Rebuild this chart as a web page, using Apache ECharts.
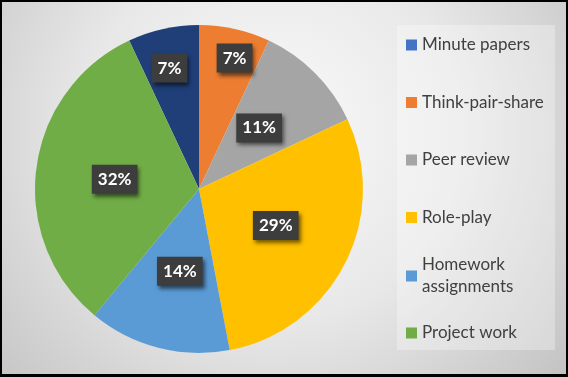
<!DOCTYPE html>
<html>
<head>
<meta charset="utf-8">
<script src="https://cdn.jsdelivr.net/npm/echarts@6/dist/echarts.min.js"></script>
<style>
  html, body { margin: 0; padding: 0; background: #000; }
  #wrap { position: relative; width: 568px; height: 377px; }
  #chart { position: absolute; left: 0; top: 0; width: 568px; height: 377px; }
  #frame { position: absolute; left: 0; top: 0; width: 568px; height: 377px; box-sizing: border-box;
           border: 2px solid #000; border-bottom-width: 3px; pointer-events: none; }
</style>
</head>
<body>
<div id="wrap"><div id="chart"></div><div id="frame"></div></div>
<script>
// ---- data ----
const categories = ['Minute papers', 'Think-pair-share', 'Peer review', 'Role-play', 'Homework assignments', 'Project work'];
const values = [7, 7, 11, 29, 14, 32];
const legendLabels = ['Minute papers', 'Think-pair-share', 'Peer review', 'Role-play', 'Homework\nassignments', 'Project work'];

// ---- styling ----
const sliceColors = ['#203F78', '#ED7D31', '#A5A5A5', '#FFC000', '#5B9BD5', '#70AD47'];
const legendColors = ['#4472C4', '#ED7D31', '#A5A5A5', '#FFC000', '#5B9BD5', '#70AD47'];
const labelNudge = [[-11, -38], [17, -48], [0, -1], [1, -2], [2, 0], [0, 1]];

const FONT = 'Lato';

const chart = echarts.init(document.getElementById('chart'), null, { renderer: 'canvas' });

const pieData = categories.map((c, i) => ({
  name: c,
  value: values[i],
  itemStyle: { color: sliceColors[i] },
  label: { offset: labelNudge[i] }
}));

function legendItem(i, extra) {
  return Object.assign({
    name: categories[i],
    itemStyle: { color: legendColors[i] }
  }, extra || {});
}

const legendCommon = {
  orient: 'vertical',
  left: 406,
  padding: 0,
  icon: 'rect',
  itemWidth: 11,
  itemHeight: 11,
  selectedMode: false,
  textStyle: { color: '#404040', fontFamily: FONT, fontSize: 17, lineHeight: 22 },
  formatter: function (name) { return legendLabels[categories.indexOf(name)]; }
};

chart.setOption({
  animation: false,
  backgroundColor: {
    type: 'radial', x: 0.48, y: 0.35, r: 1.0,
    colorStops: [
      { offset: 0, color: '#fafafa' },
      { offset: 0.5, color: '#e8e8e8' },
      { offset: 1, color: '#c4c4c4' }
    ]
  },
  graphic: [{
    type: 'rect', z: -1,
    shape: { x: 397, y: 25, width: 158, height: 325 },
    style: { fill: 'rgba(255,255,255,0.3)' },
    silent: true
  }],
  legend: [
    Object.assign({}, legendCommon, {
      top: 34,
      itemGap: 35.5,
      data: [0, 1, 2, 3].map(i => legendItem(i))
    }),
    Object.assign({}, legendCommon, {
      top: 243,
      itemGap: 13,
      data: [legendItem(4, { textStyle: { padding: [22, 0, 0, 0] } }), legendItem(5)]
    })
  ],
  series: [{
    type: 'pie',
    center: [199, 189],
    radius: [0, 164],
    startAngle: 115.2,
    clockwise: true,
    avoidLabelOverlap: false,
    data: pieData,
    emphasis: { disabled: true },
    label: {
      show: true,
      position: 'inside',
      formatter: '{d}%',
      color: '#ffffff',
      fontFamily: FONT,
      fontWeight: 'bold',
      fontSize: 17,
      lineHeight: 20,
      backgroundColor: '#3d3d3d',
      padding: [5, 6, 4, 6],
      shadowColor: 'rgba(0,0,0,0.55)',
      shadowBlur: 4,
      shadowOffsetX: 2,
      shadowOffsetY: 3
    },
    labelLine: { show: false }
  }]
});
</script>
</body>
</html>
